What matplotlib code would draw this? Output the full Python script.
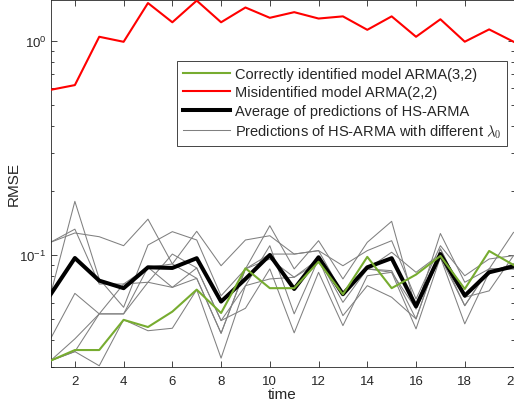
import numpy as np
import matplotlib
matplotlib.use("Agg")
import matplotlib.pyplot as plt
from matplotlib.ticker import FixedLocator, LogLocator, NullFormatter

plt.rcParams['font.family'] = ['Liberation Sans', 'DejaVu Sans']
plt.rcParams['mathtext.fontset'] = 'custom'
plt.rcParams['mathtext.rm'] = 'Liberation Sans'
plt.rcParams['mathtext.it'] = 'Liberation Sans:italic'

t = np.arange(1, 21)

# misidentified ARMA(2,2)
rmse_mis = [0.590, 0.621, 1.044, 0.989, 1.50, 1.22, 1.54, 1.22, 1.43, 1.28,
            1.36, 1.27, 1.30, 1.125, 1.30, 1.044, 1.26, 0.99, 1.13, 0.99]
# correctly identified ARMA(3,2)
rmse_true = [0.0321, 0.036, 0.036, 0.0498, 0.0461, 0.0544, 0.0689, 0.0536, 0.0867, 0.070,
             0.070, 0.093, 0.0655, 0.098, 0.070, 0.081, 0.099, 0.0694, 0.1044, 0.0898]
# average of HS-ARMA predictions
rmse_avg = [0.0653, 0.0968, 0.0759, 0.070, 0.0876, 0.087, 0.0966, 0.0606, 0.0773, 0.100,
            0.0694, 0.0976, 0.0656, 0.0876, 0.0966, 0.0576, 0.101, 0.0646, 0.083, 0.0885]
# HS-ARMA predictions with different lambda_0
rmse_g1 = [0.0653, 0.178, 0.0773, 0.057, 0.1113, 0.1285, 0.1175, 0.0645, 0.0861, 0.137,
           0.0861, 0.1166, 0.0773, 0.1146, 0.1436, 0.056, 0.126, 0.0746, 0.0861, 0.1275]
rmse_g2 = [0.1146, 0.1267, 0.1217, 0.1105, 0.147, 0.0908, 0.129, 0.0891, 0.1175, 0.123,
           0.101, 0.1048, 0.0891, 0.1048, 0.1166, 0.0623, 0.1105, 0.080, 0.0958, 0.0993]
rmse_g3 = [0.1146, 0.132, 0.0732, 0.0732, 0.0746, 0.101, 0.087, 0.0494, 0.0719, 0.1105,
           0.0531, 0.0958, 0.0601, 0.0861, 0.0845, 0.0503, 0.1067, 0.0635, 0.083, 0.0908]
rmse_g4 = [0.0406, 0.0662, 0.0531, 0.0531, 0.0876, 0.0908, 0.0778, 0.0431, 0.0861, 0.0958,
           0.0787, 0.0924, 0.0658, 0.0861, 0.103, 0.083, 0.101, 0.058, 0.0861, 0.0861]
rmse_g5 = [0.0321, 0.0406, 0.0531, 0.0732, 0.0876, 0.0706, 0.087, 0.0494, 0.0564, 0.0861,
           0.0433, 0.083, 0.0468, 0.080, 0.083, 0.0452, 0.0976, 0.0477, 0.083, 0.0908]
rmse_g6 = [0.0321, 0.0354, 0.0304, 0.0499, 0.0443, 0.0455, 0.0689, 0.033, 0.0719, 0.0773,
           0.0787, 0.0958, 0.0521, 0.0719, 0.0635, 0.0503, 0.1067, 0.0635, 0.068, 0.0993]
rmse_g7 = [0.0321, 0.0354, 0.0531, 0.0531, 0.0746, 0.0706, 0.0778, 0.0431, 0.0861, 0.101,
           0.101, 0.1048, 0.0658, 0.0861, 0.083, 0.056, 0.0976, 0.058, 0.0861, 0.0861]
grey_runs = [rmse_g1, rmse_g2, rmse_g3, rmse_g4, rmse_g5, rmse_g6, rmse_g7]

labels = ["Correctly identified model ARMA(3,2)",
          "Misidentified model ARMA(2,2)",
          "Average of predictions of HS-ARMA",
          r"Predictions of HS-ARMA with different $\lambda_0$"]

fig = plt.figure(figsize=(5.14, 4.06), dpi=100)
ax = fig.add_axes([50.5 / 514, 38 / 406, 463 / 514, 367 / 406])

axcol = '#262626'
for i, g in enumerate(grey_runs):
    ax.plot(t, g, color='#808080', lw=0.75, label=labels[3] if i == 0 else None, zorder=2)
ax.plot(t, rmse_avg, color='black', lw=2.9, label=labels[2], zorder=3)
ax.plot(t, rmse_true, color='#77AC30', lw=1.5, label=labels[0], zorder=4)
ax.plot(t, rmse_mis, color='#FF0000', lw=1.5, label=labels[1], zorder=4)

ax.set_yscale('log')
ax.set_xlim(1, 20)
ax.set_ylim(0.03, 1.55)
ax.xaxis.set_major_locator(FixedLocator(np.arange(2, 21, 2)))
ax.yaxis.set_major_locator(FixedLocator([0.1, 1.0]))
ax.set_yticklabels([r'$\mathregular{10^{-1}}$', r'$\mathregular{10^{0}}$'])
ax.yaxis.set_minor_locator(LogLocator(base=10, subs=np.arange(2, 10)))
ax.yaxis.set_minor_formatter(NullFormatter())

ax.tick_params(which='both', direction='in', top=True, right=True, colors=axcol,
               labelsize=9.5, width=0.6)
ax.tick_params(which='major', length=4)
ax.tick_params(which='minor', length=2.5)
ax.tick_params(axis='x', pad=6)
ax.tick_params(axis='y', pad=3)
for s in ax.spines.values():
    s.set_color(axcol)
    s.set_linewidth(0.6)

ax.set_xlabel('time', fontsize=11, color=axcol, labelpad=0)
ax.set_ylabel('RMSE', fontsize=11, color=axcol)
ax.yaxis.set_label_coords(-0.064, 0.5)

h, l = ax.get_legend_handles_labels()
order = [2, 3, 1, 0]
leg = ax.legend([h[i] for i in order], [l[i] for i in order],
                loc='upper left', bbox_to_anchor=(0.273, 0.835), fontsize=10.5,
                frameon=True, fancybox=False, edgecolor=axcol, framealpha=1,
                handlelength=3.2, handletextpad=0.3, labelspacing=0.3,
                borderpad=0.45, borderaxespad=0)
leg.get_frame().set_linewidth(0.6)
leg.get_texts()[3].set_math_fontfamily('cm')
for txt in leg.get_texts():
    txt.set_color(axcol)

fig.savefig('out.png', dpi=100)
